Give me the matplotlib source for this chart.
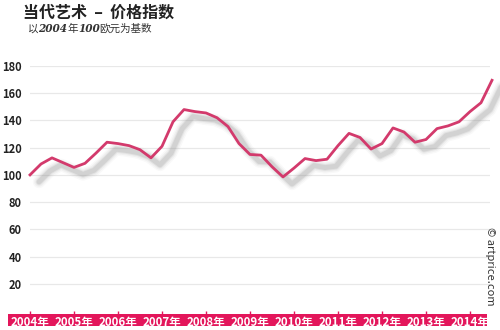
import matplotlib
matplotlib.use("Agg")
import matplotlib.pyplot as plt
import matplotlib.transforms as mtransforms
from matplotlib.patches import Rectangle

plt.rcParams['font.family'] = ['Noto Sans CJK SC', 'DejaVu Sans']

# quarterly index, 2004 Q1 = 100
index_values = [100, 108, 112.5, 109, 105.5, 108.5, 116, 124, 123, 121.5,
                118.5, 112.5, 121, 139, 148, 146.5, 145.5, 142, 135.5, 123,
                115, 114.5, 106, 98.5, 105, 112, 110.5, 111.5, 121.5, 130.5,
                127.5, 119, 123, 134.5, 131.5, 124, 126, 134, 136, 139,
                146.5, 153, 169.5]
quarters = [2004 + i / 4 for i in range(len(index_values))]
years = list(range(2004, 2015))
year_labels = [f"{y}年" for y in years]
y_ticks = [20, 40, 60, 80, 100, 120, 140, 160, 180]

W, H = 500, 330
fig = plt.figure(figsize=(5, 3.3), dpi=100)
# axes: x pixel 30..490, y pixel 311 (0) .. 66 (180)
ax = fig.add_axes([30 / W, (H - 311) / H, 460 / W, 245 / H])
ax.set_xlim(2004, 2004 + 460 / 44)
ax.set_ylim(0, 180)
for s in ax.spines.values():
    s.set_visible(False)

# gridlines
for v in y_ticks:
    ax.axhline(v, color='#e8e8e8', lw=0.9, zorder=0)

# blurred shadow
shadow = mtransforms.offset_copy(ax.transData, fig=fig, x=9, y=-7, units='dots')
for lw, a in [(9, 0.05), (7, 0.08), (5, 0.13), (3.5, 0.18)]:
    ax.plot(quarters, index_values, color='#8a8a8a', lw=lw, alpha=a,
            transform=shadow, solid_capstyle='round', clip_on=False, zorder=1)

ax.plot(quarters, index_values, color='#d33a6c', lw=2.0,
        solid_joinstyle='round', clip_on=False, zorder=3)

# y tick labels
ax.set_yticks(y_ticks)
ax.set_yticklabels([str(v) for v in y_ticks], fontsize=8, fontweight='bold',
                   color='#222222')
ax.tick_params(axis='y', length=0, pad=6)

# pink band with year labels
band = Rectangle((8 / W, (H - 326) / H), 479 / W, 12 / H,
                 transform=fig.transFigure, facecolor='#e3165b',
                 edgecolor='none', zorder=0.5, clip_on=False)
ax.add_patch(band)
ax.set_xticks(years)
ax.set_xticklabels(year_labels, fontsize=8.3, fontweight='heavy', color='white')
ax.tick_params(axis='x', length=3, width=1, color='#e3165b', pad=0.5,
               direction='out')

# titles
fig.text(23 / W, 1 - 13 / H, "当代艺术  –  价格指数", fontsize=11.5,
         fontweight='bold', color='#222222', va='center', ha='left')

renderer = fig.canvas.get_renderer()
x0 = 28
parts = [("以", dict(family=['Noto Sans CJK SC'])),
         ("2004", dict(family='DejaVu Serif', style='italic', weight='bold')),
         ("年", dict(family=['Noto Sans CJK SC'])),
         ("100", dict(family='DejaVu Serif', style='italic', weight='bold')),
         ("欧元为基数", dict(family=['Noto Sans CJK SC']))]
for txt, kw in parts:
    t = fig.text(x0 / W, 1 - 29 / H, txt, fontsize=7.6, color='#333333',
                 va='center', ha='left', **kw)
    bb = t.get_window_extent(renderer)
    x0 += bb.width

fig.text(490 / W, 1 - 266 / H, "© artprice.com", rotation=270, fontsize=8,
         color='#333333', ha='center', va='center')

fig.savefig("out.png", dpi=100)
